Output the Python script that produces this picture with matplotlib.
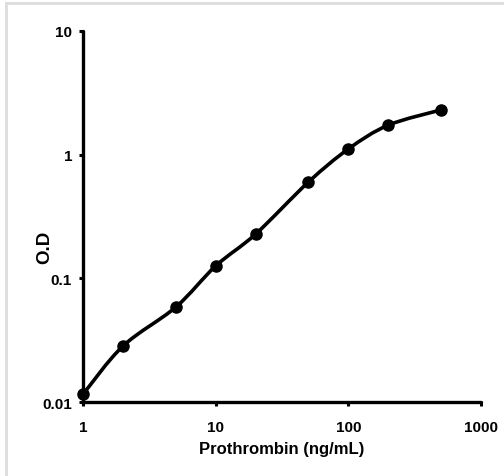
import matplotlib
matplotlib.use("Agg")
import matplotlib.pyplot as plt
import numpy as np
from matplotlib.lines import Line2D
from matplotlib.path import Path
from matplotlib.patches import PathPatch

concentration = [1, 2, 5, 10, 20, 50, 100, 200, 500]
od = [0.0116, 0.0284, 0.0586, 0.126, 0.228, 0.60, 1.11, 1.73, 2.30]

x_ticks = [1, 10, 100, 1000]
x_tick_labels = ["1", "10", "100", "1000"]
y_ticks = [0.01, 0.1, 1, 10]
y_tick_labels = ["0.01", "0.1", "1", "10"]

plt.rcParams["font.family"] = ["Liberation Sans", "DejaVu Sans"]
plt.rcParams["font.weight"] = "bold"


def smooth_path(xs, ys):
    # Catmull-Rom through the points in log-log space, as cubic Beziers
    lx = np.log10(xs)
    ly = np.log10(ys)
    pts = np.column_stack([lx, ly])
    verts = [pts[0]]
    codes = [Path.MOVETO]
    n = len(pts)
    for i in range(n - 1):
        p0 = pts[i - 1] if i > 0 else pts[i]
        p1 = pts[i]
        p2 = pts[i + 1]
        p3 = pts[i + 2] if i + 2 < n else pts[i + 1]
        c1 = p1 + (p2 - p0) / 6.0
        c2 = p2 - (p3 - p1) / 6.0
        verts += [c1, c2, p2]
        codes += [Path.CURVE4] * 3
    verts = 10 ** np.array(verts)
    return Path(verts, codes)


fig = plt.figure(figsize=(5.04, 4.77), dpi=100)
ax = fig.add_axes([0.165, 0.155, 0.789, 0.778])

ax.set_xscale("log")
ax.set_yscale("log")
ax.set_xlim(1, 1000)
ax.set_ylim(0.01, 10)

ax.add_patch(PathPatch(smooth_path(concentration, od), facecolor="none",
                       edgecolor="black", linewidth=2.6, zorder=3,
                       clip_on=False))
ax.plot(concentration, od, linestyle="none", marker="o", color="black",
        markersize=8, zorder=4, clip_on=False)

ax.set_xticks(x_ticks)
ax.set_xticklabels(x_tick_labels)
ax.set_yticks(y_ticks)
ax.set_yticklabels(y_tick_labels)
ax.minorticks_off()

for side in ["top", "right"]:
    ax.spines[side].set_visible(False)
for side in ["left", "bottom"]:
    ax.spines[side].set_linewidth(2.4)
    ax.spines[side].set_capstyle("round")

ax.tick_params(axis="both", direction="out", length=3, width=2.2,
               labelsize=11)
ax.tick_params(axis="x", pad=10)
ax.tick_params(axis="y", pad=5)

ax.set_xlabel("Prothrombin (ng/mL)", fontsize=12, fontweight="bold",
              labelpad=5)
ax.set_ylabel("O.D", fontsize=13.5, fontweight="bold")
ax.yaxis.set_label_coords(-0.075, 0.42)

# thin grey frame on the top and left edges of the image
fig.add_artist(Line2D([0.011, 0.011], [0.0, 0.991], color="#dddddd",
                      linewidth=2, transform=fig.transFigure))
fig.add_artist(Line2D([0.011, 1.0], [0.991, 0.991], color="#dddddd",
                      linewidth=2, transform=fig.transFigure))

fig.savefig("out.png", dpi=100)
